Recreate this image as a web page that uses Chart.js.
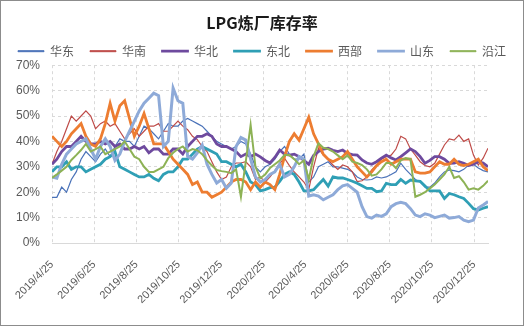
<!DOCTYPE html>
<html>
<head>
<meta charset="utf-8">
<script src="https://cdn.jsdelivr.net/npm/chart.js@4.4.1/dist/chart.umd.min.js"></script>
<style>
  html, body { margin: 0; padding: 0; background: #fff; }
  .chart-box { width: 524px; height: 326px; box-sizing: border-box; border: 1px solid #8c8c8c; background: #fff; }
  .chart-box canvas { display: block; }
</style>
</head>
<body>
<div class="chart-box"><canvas id="stockRate" width="522" height="324"></canvas></div>
<script>
// weekly data, first week 2019/4/25
const firstWeek = '2019/4/25';
const seriesNames = ['华东', '华南', '华北', '东北', '西部', '山东', '沿江'];
const tickLabels = ['2019/4/25', '2019/6/25', '2019/8/25', '2019/10/25', '2019/12/25', '2020/2/25',
  '2020/4/25', '2020/6/25', '2020/8/25', '2020/10/25', '2020/12/25'];

const huadong = [18, 18, 22, 20, 25, 28, 33, 36, 34, 32,
  35, 37, 34, 38, 41, 40, 40, 38, 42, 46,
  45, 43, 41, 44, 47, 46, 46, 48, 49, 48,
  47, 46, 44, 42, 40, 39, 38, 37, 38, 40,
  39, 35, 30, 28, 30, 31, 33, 36, 38, 35,
  33, 33, 35, 24, 26, 30, 31, 32, 30, 30,
  29.5, 29, 28, 26, 25, 24.8, 25, 26, 25.6, 26,
  27, 28, 31.4, 29, 27, 25, 24, 22, 22, 23.6,
  26, 28, 28.8, 28.5, 28, 29, 30.7, 31, 29.5, 28.5, 28];
const huanan = [31, 36, 40, 45, 50, 48, 50, 52, 50, 45,
  47, 48, 46, 47, 44, 41, 43, 45, 42, 44,
  46, 46, 47, 44, 44, 46, 48, 46, 44.6, 42,
  40.7, 38, 36, 32, 28, 25, 26, 30, 31.5, 31.5,
  32, 30, 25, 26, 24, 26, 28.5, 31.4, 33.4, 30.5,
  28, 26, 24, 21, 30, 37.3, 34.6, 32.7, 30.7, 29,
  30.7, 30, 28, 24.2, 24.5, 26, 28.8, 30.7, 33, 34,
  34.6, 37, 42, 41, 37, 34.6, 32, 30.5, 30, 31.4,
  35, 38.6, 41, 40.5, 42.5, 40, 41, 34.6, 30.7, 33.4, 37.3];
const huabei = [31, 33, 36, 38, 38, 40, 42, 40, 39, 39,
  40, 39, 40, 38, 39, 37, 37, 38, 37, 38,
  35.5, 37, 37, 35, 35, 37, 37, 35, 38, 40,
  42, 42, 43, 42, 39, 38, 38, 37, 36, 34,
  35, 34, 35, 33.9, 32.5, 31.5, 33.7, 36.6, 35, 34.6,
  35, 34, 32.5, 31, 34.5, 36, 37, 37.3, 36.5, 36,
  36.6, 35.3, 34.8, 34.6, 32.7, 31.5, 31, 32, 33.4, 34.6,
  33.5, 32.7, 34, 35.5, 37, 36, 34, 31.4, 32.5, 34,
  34, 33, 31.4, 31.5, 32, 31.4, 30.5, 31, 32, 31.5, 30];
const dongbei = [28, 30, 30, 32, 29, 30, 30, 28, 29, 30,
  31, 33, 34, 36, 30, 29, 28, 27, 26, 26,
  27, 25.5, 24.5, 27, 28, 28, 30, 33, 33, 35,
  37, 38, 37, 36, 35, 32, 32, 31, 30, 31,
  28, 24, 23, 20.5, 21, 21.8, 22, 24.3, 27, 28,
  27, 24, 20.5, 20.5, 21, 23, 25, 22.4, 26, 25.6,
  25.6, 25, 24.3, 23.5, 22.5, 21.5, 21.5, 20.2, 20.5, 23.5,
  23, 23, 25, 23.5, 24.8, 24.5, 24.3, 22.4, 20.5, 20.5,
  20.5, 17.5, 19.5, 19, 18.2, 17.5, 15.6, 13.5, 13, 13.7, 14.3];
const xibu = [42, 40, 38, 40, 43, 45, 47, 42, 39, 38,
  41, 47, 55, 48, 54, 56, 49, 42, 46, 51,
  45, 39, 39, 39, 36, 33, 31, 29, 27, 23,
  24, 20, 20, 18, 19, 20, 22, 24, 25, 25,
  24, 21, 24, 22, 24, 23, 21, 27, 34, 40,
  43, 40.5, 45, 49.5, 43, 39, 35, 33, 32, 33,
  34, 36, 33, 30, 28, 26, 28, 30.5, 32, 33,
  31, 32, 33, 33, 33, 28, 27.5, 27.5, 28, 30,
  32, 31, 31, 33, 31, 30.5, 31, 32, 33, 30, 28.5];
const shandong = [26, 25.5, 31, 35, 37, 39, 40, 41, 37, 33,
  38, 41, 38, 32.5, 35, 40, 44, 48, 52, 55,
  57, 59, 58, 38, 40, 61, 56, 55, 34, 33,
  35.5, 38.6, 31, 27, 23.6, 25, 21.6, 23.6, 38, 41.5,
  40.5, 33, 26, 24, 25, 27, 28, 31, 26, 27,
  30, 34, 33, 18.5, 19, 18.5, 17, 18, 19, 21,
  22.5, 23, 21.5, 20, 14.3, 10.4, 9.8, 11, 10.5, 11.5,
  14.3, 15.5, 16, 15.5, 13.5, 11, 10.4, 11.5, 11, 10,
  10.5, 11, 9.8, 10, 10.4, 9, 8.4, 9, 13.8, 15, 16.3];
const yanjiang = [25.6, 27, 28.5, 30, 32.7, 34.6, 36.6, 39, 36, 37,
  38, 35, 36, 37, 38, 40, 37, 34, 33, 30,
  28, 28, 29, 30, 33.4, 35.5, 37, 38, 36, 37,
  36.5, 35, 32.5, 30.5, 28.7, 28.3, 28, 27.5, 29, 18.2,
  32, 46.5, 30, 25.5, 27, 29.5, 31, 32.5, 34.6, 34.6,
  33, 31, 32.5, 25, 34, 39.3, 37.5, 37, 36, 34.5,
  33, 34.5, 32, 31.5, 30.7, 29, 26.5, 27, 29, 31.5,
  31.5, 29.5, 32.5, 33.4, 33, 18.2, 19, 20, 21.5, 23,
  25, 27, 30, 25.6, 26.3, 24, 21, 21.5, 21, 22.5, 24.5];

const seriesValues = [huadong, huanan, huabei, dongbei, xibu, shandong, yanjiang];
const seriesColors = ['#4a72b8', '#be4b48', '#6e4a9e', '#2f9fb5', '#ed7d31', '#8eaad8', '#8db255'];
const seriesWidths = [1.2, 1.2, 2.8, 2.8, 2.8, 3, 2];

const dayNo = s => {
  const p = s.split('/').map(Number);
  return Math.round((Date.UTC(p[0], p[1] - 1, p[2]) - Date.UTC(2019, 3, 25)) / 86400000);
};
const tickDays = tickLabels.map(dayNo);
const lastDay = (huadong.length - 1) * 7;

const gridColor = '#d9d9d9';
const textColor = '#595959';
const cjk = 'Noto Sans CJK SC';

const datasets = seriesNames.map((name, i) => ({
  label: name,
  data: seriesValues[i].map((v, w) => ({ x: dayNo(firstWeek) + w * 7, y: v })),
  borderColor: seriesColors[i],
  backgroundColor: seriesColors[i],
  borderWidth: seriesWidths[i],
  pointRadius: 0,
  tension: 0,
  order: seriesNames.length - i
}));

new Chart(document.getElementById('stockRate'), {
  type: 'line',
  data: { datasets: datasets },
  options: {
    responsive: false,
    animation: false,
    layout: { padding: 0 },
    plugins: {
      title: {
        display: true,
        text: 'LPG炼厂库存率',
        color: '#1a1a1a',
        font: { family: cjk, size: 16, weight: 'bold', lineHeight: 1.2 },
        padding: { top: 12, bottom: -3 }
      },
      legend: {
        position: 'top',
        maxHeight: 36,
        labels: {
          boxWidth: 26,
          boxHeight: 1,
          padding: 16,
          color: textColor,
          font: { family: cjk, size: 12 },
          generateLabels: function (chart) {
            return Chart.defaults.plugins.legend.labels.generateLabels(chart)
              .sort((a, b) => a.datasetIndex - b.datasetIndex)
              .map(item => Object.assign(item, {
                fillStyle: item.strokeStyle,
                lineWidth: seriesWidths[item.datasetIndex] > 2 ? 1.8 : 1
              }));
          }
        }
      },
      tooltip: { enabled: false }
    },
    scales: {
      x: {
        type: 'linear',
        min: 0,
        max: lastDay,
        afterBuildTicks: scale => { scale.ticks = tickDays.map(v => ({ value: v })); },
        afterFit: scale => { scale.height = 82; },
        ticks: {
          autoSkip: false,
          minRotation: 45,
          maxRotation: 45,
          padding: 15,
          color: textColor,
          font: { family: 'Liberation Sans', size: 11 },
          callback: (v, i) => tickLabels[i]
        },
        grid: { color: gridColor, drawTicks: false },
        border: { display: true, color: gridColor, dash: [3, 3] }
      },
      y: {
        min: 0,
        max: 70,
        afterFit: scale => { scale.width = 51; },
        ticks: {
          stepSize: 10,
          padding: 12,
          color: textColor,
          font: { family: 'Liberation Sans', size: 12 },
          callback: v => v + '%'
        },
        grid: {
          color: ctx => (ctx.tick && ctx.tick.value === 0) ? 'rgba(0,0,0,0)' : gridColor,
          drawTicks: false
        },
        border: { display: false, dash: [3, 3] }
      },
      yRight: {
        position: 'right',
        afterFit: scale => { scale.width = 35; },
        grid: { display: false },
        ticks: { display: false },
        border: { display: false }
      }
    }
  }
});
</script>
</body>
</html>
